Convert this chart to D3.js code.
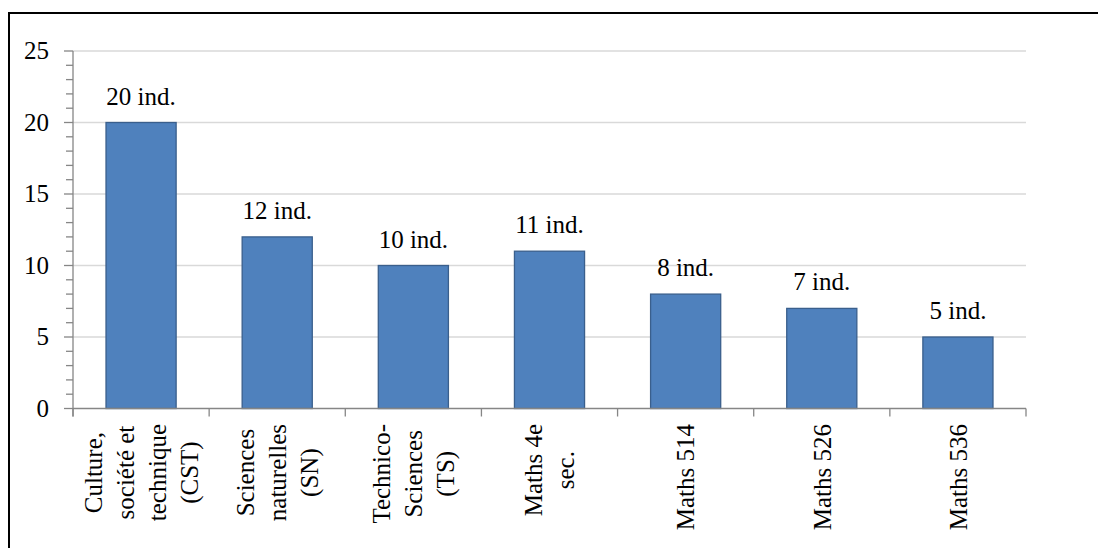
<!DOCTYPE html>
<html>
<head>
<meta charset="utf-8">
<script src="https://cdn.jsdelivr.net/npm/d3@7"></script>
<style>
  html, body { margin: 0; background: #fff; overflow: hidden; }
  svg { display: block; }
</style>
</head>
<body>
<div id="chart"></div>
<script>
// Data
const categories = ["CST", "SN", "TS", "Maths4", "M514", "M526", "M536"];
const categoryLines = [
  ["Culture,", "société et", "technique", "(CST)"],
  ["Sciences", "naturelles", "(SN)"],
  ["Technico-", "Sciences", "(TS)"],
  ["Maths 4e", "sec."],
  ["Maths 514"],
  ["Maths 526"],
  ["Maths 536"]
];
const values = [20, 12, 10, 11, 8, 7, 5];
const valueLabels = ["20 ind.", "12 ind.", "10 ind.", "11 ind.", "8 ind.", "7 ind.", "5 ind."];
const yTicks = [0, 5, 10, 15, 20, 25];

const W = 1098, H = 548;
const fontSize = 25;
const fontFamily = "'Liberation Serif', 'DejaVu Serif', 'Times New Roman', serif";
const axisColor = "#868686";

const svg = d3.select("#chart").append("svg")
  .attr("width", W)
  .attr("height", H)
  .attr("font-family", fontFamily)
  .attr("font-size", fontSize);

// Outer frame: only the left and top edges are visible in the picture
svg.append("path")
  .attr("d", `M9,${H}V13H${W}`)
  .attr("fill", "none")
  .attr("stroke", "#000")
  .attr("stroke-width", 2);

// Plot area
const plotLeft = 73, plotRight = 1026, plotTop = 51, plotBottom = 408.5;

const x = d3.scaleBand()
  .domain(categories)
  .range([plotLeft, plotRight])
  .paddingInner(0.485)
  .paddingOuter(0.2425);

const y = d3.scaleLinear()
  .domain([0, 25])
  .range([plotBottom, plotTop]);

// Gridlines
svg.append("g")
  .selectAll("line")
  .data(yTicks.filter(d => d > 0))
  .enter().append("line")
  .attr("x1", plotLeft).attr("x2", plotRight)
  .attr("y1", d => y(d)).attr("y2", d => y(d))
  .attr("stroke", "#d9d9d9")
  .attr("stroke-width", 1.3);

// Bars
svg.append("g")
  .selectAll("rect")
  .data(values)
  .enter().append("rect")
  .attr("x", (d, i) => x(categories[i]))
  .attr("y", d => y(d))
  .attr("width", x.bandwidth())
  .attr("height", d => y(0) - y(d))
  .attr("fill", "#4f81bd")
  .attr("stroke", "#3a5f8c")
  .attr("stroke-width", 1.3);

// Value labels
svg.append("g")
  .selectAll("text")
  .data(values)
  .enter().append("text")
  .attr("x", (d, i) => x(categories[i]) + x.bandwidth() / 2)
  .attr("y", d => y(d) - 18)
  .attr("text-anchor", "middle")
  .attr("font-family", fontFamily)
  .text((d, i) => valueLabels[i]);

// Y axis with minor ticks
const yAxis = svg.append("g");
yAxis.append("line")
  .attr("x1", plotLeft).attr("x2", plotLeft)
  .attr("y1", plotTop).attr("y2", plotBottom + 8)
  .attr("stroke", axisColor).attr("stroke-width", 1.3);
yAxis.selectAll(".minor")
  .data(d3.range(0, 26))
  .enter().append("line")
  .attr("x1", d => d % 5 === 0 ? plotLeft - 9 : plotLeft - 7)
  .attr("x2", plotLeft)
  .attr("y1", d => y(d)).attr("y2", d => y(d))
  .attr("stroke", axisColor).attr("stroke-width", 1.3);
yAxis.selectAll("text")
  .data(yTicks)
  .enter().append("text")
  .attr("x", plotLeft - 24)
  .attr("y", d => y(d))
  .attr("dy", "0.33em")
  .attr("text-anchor", "end")
  .attr("font-family", fontFamily)
  .text(d => d);

// X axis with boundary ticks
const xAxis = svg.append("g");
xAxis.append("line")
  .attr("x1", plotLeft).attr("x2", plotRight)
  .attr("y1", plotBottom).attr("y2", plotBottom)
  .attr("stroke", axisColor).attr("stroke-width", 1.3);
const step = (plotRight - plotLeft) / categories.length;
xAxis.selectAll(".tick")
  .data(d3.range(0, categories.length + 1))
  .enter().append("line")
  .attr("x1", d => plotLeft + d * step).attr("x2", d => plotLeft + d * step)
  .attr("y1", plotBottom).attr("y2", plotBottom + 8)
  .attr("stroke", axisColor).attr("stroke-width", 1.3);

// Rotated, multi-line category labels
const labelTop = 424;
const lineH = 32;
const labels = svg.append("g")
  .selectAll("g")
  .data(categoryLines)
  .enter().append("g");

labels.each(function(lines, i) {
  const g = d3.select(this);
  const cx = x(categories[i]) + x.bandwidth() / 2;
  const t = g.append("text")
    .attr("text-anchor", "middle")
    .attr("font-family", fontFamily);
  const spans = t.selectAll("tspan")
    .data(lines)
    .enter().append("tspan")
    .attr("x", 0)
    .attr("y", (d, j) => (j - (lines.length - 1) / 2) * lineH + 0.35 * fontSize)
    .text(d => d);
  let maxLen = 0;
  spans.each(function() { maxLen = Math.max(maxLen, this.getComputedTextLength()); });
  t.attr("transform", `translate(${cx},${labelTop + maxLen / 2}) rotate(-90)`);
});
</script>
</body>
</html>
